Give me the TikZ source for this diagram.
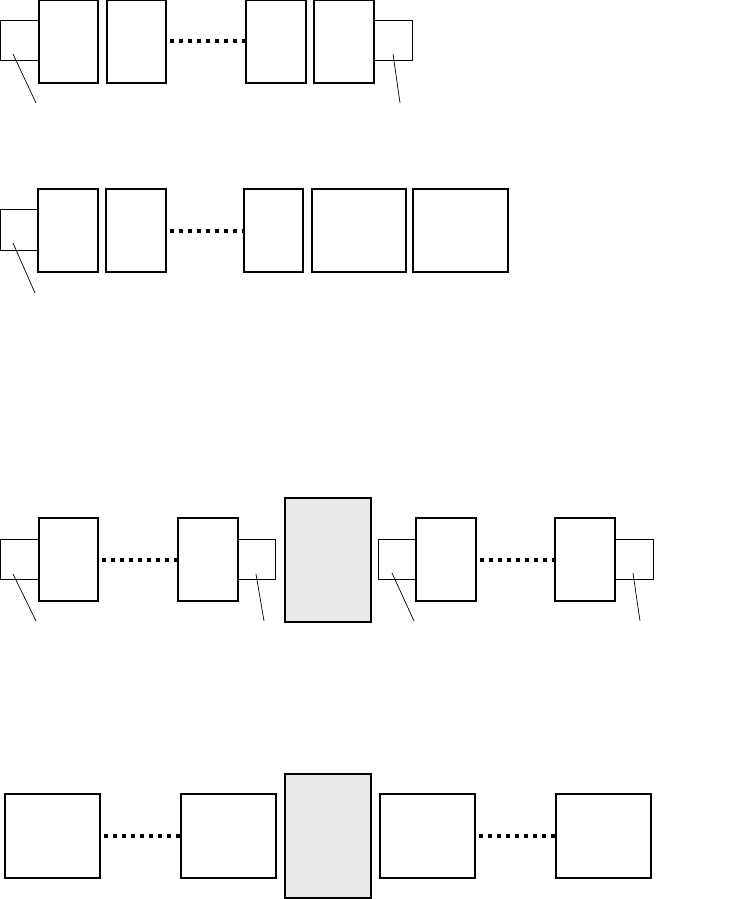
\documentclass[tikz,border=0pt]{standalone}
\definecolor{panelgray}{HTML}{E8E8E8}
\begin{document}
\begin{tikzpicture}[x=1pt,y=-1pt,
  bigbox/.style={draw,line width=2pt,fill=white,inner sep=0,outer sep=0,minimum height=83},
  smallbox/.style={draw,line width=1pt,fill=white,inner sep=0,outer sep=0,minimum height=40},
  graybox/.style={draw,line width=2pt,fill=panelgray,inner sep=0,outer sep=0,minimum width=86,minimum height=124},
  dotlink/.style={line width=4pt,dash pattern=on 4pt off 5pt,shorten <=4pt},
  leader/.style={line width=0.7pt}]
\useasboundingbox (0,0) rectangle (732,899);
% Row 1
\node[smallbox,minimum width=39] (r1s1) at (19.5,41) {};
\node[smallbox,minimum width=38] (r1s2) at (393,41) {};
\node[bigbox,minimum width=59] (r1a) at (68.5,41.5) {};
\node[bigbox,minimum width=59] (r1b) at (136.5,41.5) {};
\node[bigbox,minimum width=60] (r1c) at (276,41.5) {};
\node[bigbox,minimum width=60] (r1d) at (344,41.5) {};
\draw[dotlink] (r1b.east) -- (r1c.west);
\coordinate (r1l1a) at (13,54); \coordinate (r1l1b) at (36,103);
\coordinate (r1l2a) at (393,54); \coordinate (r1l2b) at (400,103);
\draw[leader] (r1l1a) -- (r1l1b);
\draw[leader] (r1l2a) -- (r1l2b);
% Row 2
\node[smallbox,minimum width=38,minimum height=41] (r2s1) at (19,229.5) {};
\node[bigbox,minimum width=60] (r2a) at (68,230.5) {};
\node[bigbox,minimum width=60] (r2b) at (136,230.5) {};
\node[bigbox,minimum width=59] (r2c) at (273.5,230.5) {};
\node[bigbox,minimum width=94] (r2d) at (359,230.5) {};
\node[bigbox,minimum width=95] (r2e) at (460.5,230.5) {};
\draw[dotlink] (r2b.east) -- (r2c.west);
\coordinate (r2l1a) at (13,243); \coordinate (r2l1b) at (35,293);
\draw[leader] (r2l1a) -- (r2l1b);
% Row 3
\node[smallbox,minimum width=38] (r3s1) at (19,559) {};
\node[smallbox,minimum width=37] (r3s2) at (256.5,559) {};
\node[smallbox,minimum width=38] (r3s3) at (397,559) {};
\node[smallbox,minimum width=38] (r3s4) at (634,559) {};
\node[bigbox,minimum width=59] (r3a) at (68.5,559.5) {};
\node[bigbox,minimum width=60] (r3b) at (208,559.5) {};
\node[graybox] (g1) at (328,560) {};
\node[bigbox,minimum width=60] (r3c) at (446,559.5) {};
\node[bigbox,minimum width=60] (r3d) at (585,559.5) {};
\draw[dotlink] (r3a.east) -- (r3b.west);
\draw[dotlink] (r3c.east) -- (r3d.west);
\coordinate (r3l1a) at (13,574); \coordinate (r3l1b) at (36,621);
\coordinate (r3l2a) at (256,574); \coordinate (r3l2b) at (264,621);
\coordinate (r3l3a) at (392,573); \coordinate (r3l3b) at (414,621);
\coordinate (r3l4a) at (633,573); \coordinate (r3l4b) at (640,621);
\draw[leader] (r3l1a) -- (r3l1b);
\draw[leader] (r3l2a) -- (r3l2b);
\draw[leader] (r3l3a) -- (r3l3b);
\draw[leader] (r3l4a) -- (r3l4b);
% Row 4
\node[bigbox,minimum width=95,minimum height=84] (r4a) at (52.5,836) {};
\node[bigbox,minimum width=95,minimum height=84] (r4b) at (228.5,836) {};
\node[graybox] (g2) at (328,836) {};
\node[bigbox,minimum width=95,minimum height=84] (r4c) at (427.5,836) {};
\node[bigbox,minimum width=95,minimum height=84] (r4d) at (603.5,836) {};
\draw[dotlink] (r4a.east) -- (r4b.west);
\draw[dotlink] (r4c.east) -- (r4d.west);
\end{tikzpicture}
\end{document}
